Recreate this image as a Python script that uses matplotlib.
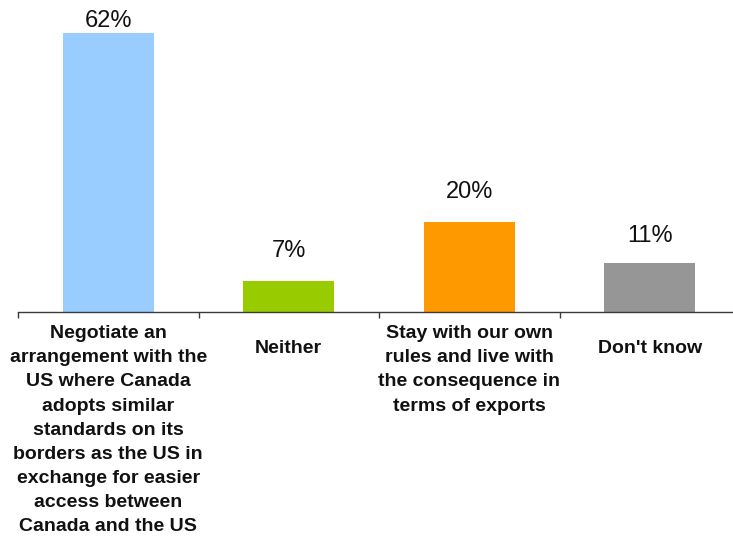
import matplotlib
matplotlib.use("Agg")
import matplotlib.pyplot as plt

# data
categories = [
    "Negotiate an\narrangement with the\nUS where Canada\nadopts similar\nstandards on its\nborders as the US in\nexchange for easier\naccess between\nCanada and the US",
    "Neither",
    "Stay with our own\nrules and live with\nthe consequence in\nterms of exports",
    "Don't know",
]
values = [62, 7, 20, 11]
value_labels = ["62%", "7%", "20%", "11%"]

COLORS = ["#99CCFF", "#99CC00", "#FF9900", "#969696"]
AXIS = "#3a3a3a"
# label placement (points)
VALUE_PAD = [0.5, 13.5, 13.5, 11.5]
CAT_PAD = [-9.5, -20, -9.5, -20]

plt.rcParams["font.family"] = ["Liberation Sans", "DejaVu Sans"]

W, H = 733, 542
fig = plt.figure(figsize=(W / 100, H / 100), dpi=100)
ax = fig.add_axes([18 / W, (H - 312) / H, 722 / W, 312 / H])

x = list(range(len(values)))
ax.bar(x, values, width=0.505, color=COLORS, zorder=2)

ax.set_xlim(-0.5, len(values) - 0.5)
ax.set_ylim(0, 312 / 4.5)

for s in ("top", "right", "left"):
    ax.spines[s].set_visible(False)
ax.spines["bottom"].set_color(AXIS)
ax.spines["bottom"].set_linewidth(1.0)
ax.set_yticks([])
ax.set_xticks([])
ax.set_xticks([i - 0.5 for i in range(len(values) + 1)], minor=True)
ax.tick_params(axis="x", which="minor", direction="out", length=4, width=1.0,
               color=AXIS, labelbottom=False)

for i, (v, lab) in enumerate(zip(values, value_labels)):
    ax.annotate(lab, (i, v), xytext=(0, VALUE_PAD[i]), textcoords="offset points",
                ha="center", va="bottom", fontsize=17, color="#111111")

for i, cat in enumerate(categories):
    ax.annotate(cat, (i, 0), xycoords=("data", "axes fraction"),
                xytext=(0, CAT_PAD[i]), textcoords="offset points",
                ha="center", va="top", fontsize=14, fontweight="bold",
                color="#111111", linespacing=1.55)

fig.savefig("out.png", dpi=100)
